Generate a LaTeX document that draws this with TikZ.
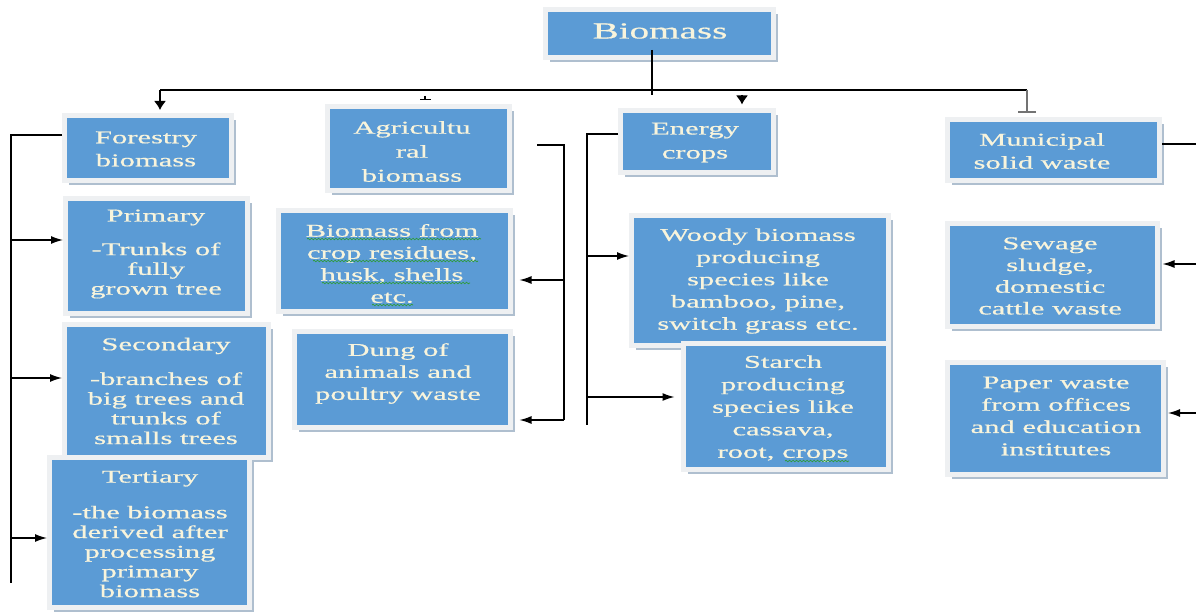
\documentclass[tikz,border=0pt]{standalone}
\usepackage{fontspec}
\setmainfont{Liberation Serif}[FakeStretch=1.7,FakeBold=0.6]
\usetikzlibrary{arrows.meta,shadows,calc,decorations.pathmorphing}
\definecolor{boxblue}{HTML}{5B9BD5}
\definecolor{framec}{HTML}{EEF0F2}
\definecolor{shadc}{HTML}{AFBFCF}
\definecolor{txtc}{HTML}{F8F4DC}
\definecolor{squig}{HTML}{2E9B3A}
\tikzset{
  bx/.style={rectangle, fill=boxblue, draw=framec, line width=5pt, inner sep=0pt,
    drop shadow={shadow xshift=4.5pt, shadow yshift=-4.5pt, fill=shadc, opacity=1}},
  tx/.style={text=txtc, align=center, inner sep=0pt, yshift=-2.5pt, font=\fontsize{18}{#1}\selectfont},
  tx/.default=22,
  conn/.style={line width=1.3pt, black},
  arr/.style={conn, -{Latex[length=12pt,width=8pt]}},
  dnarr/.style={conn, -{Latex[length=9pt,width=12pt]}},
  barend/.style={conn, -{Bar[width=11pt,line width=1.3pt]}},
  spell/.style={squig, line width=0.7pt, decorate, decoration={snake, amplitude=0.8pt, segment length=3.5pt}},
}
\begin{document}
\begin{tikzpicture}[x=1pt,y=-1pt]
\useasboundingbox (0,0) rectangle (1196,612);

% ---------- boxes ----------
\node[bx, minimum width=228, minimum height=48] (bio) at (659.5,33.5) {};
\node[bx, minimum width=167, minimum height=65] (for) at (148,148) {};
\node[bx, minimum width=182, minimum height=84] (agr) at (418.5,148.5) {};
\node[bx, minimum width=153, minimum height=62] (ene) at (697,141.5) {};
\node[bx, minimum width=212, minimum height=61] (mun) at (1053.5,150) {};
\node[bx, minimum width=182, minimum height=115] (pri) at (156.5,256) {};
\node[bx, minimum width=204, minimum height=133] (sec) at (166.5,391) {};
\node[bx, minimum width=200, minimum height=150] (ter) at (149.5,532.5) {};
\node[bx, minimum width=232, minimum height=101] (crop) at (394.5,261) {};
\node[bx, minimum width=216, minimum height=96] (dung) at (402.5,379.5) {};
\node[bx, minimum width=257, minimum height=130] (woody) at (760,280.5) {};
\node[bx, minimum width=205, minimum height=126] (starch) at (786,406.5) {};
\node[bx, minimum width=210, minimum height=103] (sew) at (1052.5,275) {};
\node[bx, minimum width=216, minimum height=112] (pap) at (1055.5,418.5) {};

% ---------- texts ----------
\node[text=txtc, inner sep=0pt, yshift=-2pt, font=\fontsize{23}{26}\selectfont] (tbio) at (660,29) {Biomass};
\node[tx=23] (tfor) at (146,146.5) {Forestry\\biomass};
\node[tx=24] (tagr) at (412,149) {Agricultu\\ral\\biomass};
\node[tx=24] (tene) at (695,140) {Energy\\crops};
\node[tx=23] (tmun) at (1042,148.5) {Municipal\\solid waste};
\node[tx=19.7] (tpri) at (156,251.5) {Primary\\[14pt]-Trunks of\\fully\\grown tree};
\node[tx=19.7] (tsec) at (166,388.5) {Secondary\\[15pt]-branches of\\big trees and\\trunks of\\smalls trees};
\node[tx=19.7] (tter) at (150,531.5) {Tertiary\\[16pt]-the biomass\\derived after\\processing\\primary\\biomass};
\node[tx] (tcrop) at (392,261) {Biomass from\\crop residues,\\husk, shells\\etc.};
\node[tx] (tdung) at (398,371) {Dung of\\animals and\\poultry waste};
\node[tx=22.2] (twoody) at (758,278.5) {Woody biomass\\producing\\species like\\bamboo, pine,\\switch grass etc.};
\node[tx=22.5] (tstarch) at (783,406) {Starch\\producing\\species like\\cassava,\\root, crops};
\node[tx=21.7] (tsew) at (1050,273.5) {Sewage\\sludge,\\domestic\\cattle waste};
\node[tx=22.3] (tpap) at (1056,413.5) {Paper waste\\from offices\\and education\\institutes};

% spell-check marks
\draw[spell] (307,239) -- (481,239);
\draw[spell] (313,261) -- (478,261);
\draw[spell] (322,283) -- (470,283);
\draw[spell] (372,305) -- (413,305);
\draw[spell] (785,461) -- (849,461);

% ---------- top connectors ----------
\coordinate (hl) at (160,90);
\coordinate (hr) at (1027,90);
\coordinate (bstem) at (652,95);
\coordinate (astub) at (425,96);
\coordinate (estub) at (742,95);
\draw[conn] (hl) -- (hr);
\draw[conn] ($(bio.south)+(-7.5,-10)$) -- (bstem);
\draw[dnarr, shorten >=3pt] (hl) -- (hl |- for.north);
\draw[barend, shorten >=3.5pt] (astub) -- (astub |- agr.north);
\draw[dnarr, shorten >=3.5pt] (estub) -- (estub |- ene.north);
\draw[line width=2.6pt, black!55, -{Bar[width=18pt,line width=2pt]}, shorten >=4pt] (hr) -- (hr |- mun.north);

% ---------- forestry branch ----------
\coordinate (fa) at (11,135);
\coordinate (fb) at (11,583);
\coordinate (f1) at (11,240);
\coordinate (f2) at (11,378);
\coordinate (f3) at (11,538);
\draw[conn] (for.west |- fa) -- (fa) -- (fb);
\draw[arr] (f1) -- (f1 -| pri.west);
\draw[arr] (f2) -- (f2 -| sec.west);
\draw[arr] (f3) -- (f3 -| ter.west);

% ---------- agricultural branch ----------
\coordinate (as) at (537,145);
\coordinate (a0) at (564,145);
\coordinate (a1) at (564,280);
\coordinate (a2) at (564,420);
\draw[conn] (as) -- (a0) -- (a2);
\draw[arr, shorten >=6.5pt] (a1) -- (a1 -| crop.east);
\draw[arr, shorten >=6.5pt] (a2) -- (a2 -| dung.east);

% ---------- energy branch ----------
\coordinate (ea) at (587,134);
\coordinate (eb) at (587,425);
\coordinate (e1) at (587,256);
\coordinate (e2) at (587,397);
\draw[conn] (ene.west |- ea) -- (ea) -- (eb);
\draw[arr] (e1) -- (e1 -| woody.west);
\draw[arr, shorten >=6.5pt] (e2) -- (e2 -| starch.west);

% ---------- municipal branch ----------
\coordinate (ma) at (1196,144);
\coordinate (m1) at (1196,264);
\coordinate (m2) at (1196,413);
\draw[conn] (mun.east |- ma) -- (ma);
\draw[arr, shorten >=2.5pt] (m1) -- (m1 -| sew.east);
\draw[arr, shorten >=2pt] (m2) -- (m2 -| pap.east);
\end{tikzpicture}
\end{document}
